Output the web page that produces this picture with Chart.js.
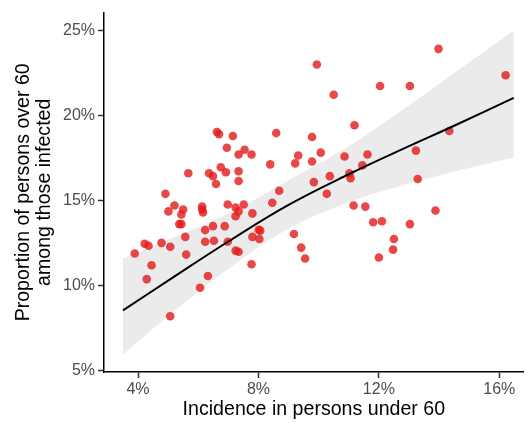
<!DOCTYPE html>
<html>
<head>
<meta charset="utf-8">
<script src="https://cdn.jsdelivr.net/npm/chart.js@4/dist/chart.umd.min.js"></script>
<style>
  body { margin: 0; background: #fff; }
</style>
</head>
<body>
<canvas id="chart" width="528" height="423"></canvas>
<script>
// incidence under 60 (%) and share over 60 (%), one entry per region
var incidence = [3.89, 4.22, 4.35, 4.29, 4.45, 4.78, 4.91, 5.07, 5.07, 5.21,
  5.01, 5.50, 5.44, 5.37, 5.44, 5.57, 5.60, 5.67, 6.06, 6.13,
  6.13, 6.16, 6.23, 6.23, 6.32, 6.36, 6.49, 6.49, 6.52, 6.59,
  6.62, 6.69, 6.75, 6.88, 6.92, 6.95, 6.98, 6.98, 7.15, 7.24,
  7.24, 7.24, 7.34, 7.34, 7.34, 7.34, 7.34, 7.51, 7.54, 7.77,
  7.77, 7.80, 7.80, 8.01, 8.06, 8.03, 8.39, 8.46, 8.59, 8.69,
  9.18, 9.22, 9.32, 9.42, 9.55, 9.78, 9.78, 9.84, 9.94, 10.07,
  10.27, 10.37, 10.50, 10.86, 11.02, 11.06, 11.16, 11.19, 11.45, 11.55,
  11.62, 11.81, 12.04, 12.10, 12.00, 12.47, 12.50, 13.03, 13.03, 13.23,
  13.29, 13.88, 13.98, 14.34, 16.21];
var over60 = [11.89, 12.47, 12.35, 10.39, 11.20, 12.52, 15.40, 12.29, 8.21, 14.71,
  14.37, 14.48, 14.19, 13.62, 13.62, 12.87, 11.83, 16.61, 9.88, 14.65,
  14.48, 14.31, 13.27, 12.58, 10.57, 16.61, 16.44, 13.50, 12.64, 15.98,
  19.03, 18.91, 16.96, 13.50, 16.67, 18.11, 14.77, 12.58, 18.80, 14.60,
  14.08, 12.06, 12.00, 17.71, 16.73, 16.15, 14.37, 14.77, 17.99, 17.71,
  11.26, 14.25, 12.87, 13.28, 13.24, 12.75, 17.13, 14.88, 18.97, 15.58,
  13.04, 17.19, 17.65, 12.24, 11.60, 18.74, 17.30, 16.09, 23.00, 17.82,
  15.40, 16.44, 21.22, 17.59, 16.61, 16.32, 14.71, 19.43, 17.07, 14.65,
  17.71, 13.73, 21.74, 13.79, 11.66, 12.12, 12.75, 21.74, 13.62, 17.94,
  16.27, 14.42, 23.92, 19.09, 22.37];

// smoothed fit and its confidence band
var fitX = [3.5, 5, 7, 9, 11, 13, 14.5, 16.48];
var fitY = [8.55, 10.3, 12.6, 14.75, 16.55, 18.2, 19.4, 21.04];
var bandLow = [5.96, 8.2, 11.0, 13.35, 14.9, 16.0, 16.7, 17.53];
var bandHigh = [11.6, 12.7, 14.25, 16.2, 18.2, 20.6, 22.5, 25.0];

var xTicks = [4, 8, 12, 16];
var yTicks = [5, 10, 15, 20, 25];

function pairs(xs, ys) {
  var out = [];
  for (var i = 0; i < xs.length; i++) out.push({x: xs[i], y: ys[i]});
  return out;
}

var font = "'Liberation Sans', Arial, sans-serif";

new Chart(document.getElementById('chart'), {
  type: 'scatter',
  data: {
    datasets: [{
      data: pairs(fitX, bandLow),
      showLine: true, borderWidth: 0, pointRadius: 0, tension: 0.4,
      order: 4
    }, {
      data: pairs(fitX, bandHigh),
      showLine: true, borderWidth: 0, pointRadius: 0, tension: 0.4,
      fill: '-1', backgroundColor: '#ebebeb',
      order: 3
    }, {
      data: pairs(incidence, over60),
      pointRadius: 4.3,
      pointBorderWidth: 0,
      pointBackgroundColor: 'rgba(228,26,28,0.8)',
      order: 2
    }, {
      data: pairs(fitX, fitY),
      showLine: true, borderColor: '#000', borderWidth: 2, pointRadius: 0,
      tension: 0.4,
      order: 1
    }]
  },
  options: {
    responsive: false,
    animation: false,
    layout: { padding: { top: 6, right: 0, left: 0, bottom: 0 } },
    plugins: { legend: { display: false }, tooltip: { enabled: false } },
    scales: {
      x: {
        type: 'linear',
        min: 2.87, max: 16.81,
        afterBuildTicks: function(s) { s.ticks = xTicks.map(function(v) { return {value: v}; }); },
        afterFit: function(s) { s.height = 51; },
        grid: { drawOnChartArea: false, tickLength: 6, tickColor: '#333', tickWidth: 1.5 },
        border: { color: '#000', width: 1.5 },
        ticks: { color: '#4d4d4d', padding: 2, font: { family: font, size: 16 },
          callback: function(v) { return v + '%'; } },
        title: { display: true, text: 'Incidence in persons under 60', color: '#000',
          font: { family: font, size: 19.6 }, padding: { top: 0, bottom: 2 } }
      },
      y: {
        type: 'linear',
        min: 4.93, max: 26.05,
        afterBuildTicks: function(s) { s.ticks = yTicks.map(function(v) { return {value: v}; }); },
        afterFit: function(s) { s.width = 104; },
        grid: { drawOnChartArea: false, tickLength: 6, tickColor: '#333', tickWidth: 1.5 },
        border: { color: '#000', width: 1.5 },
        ticks: { color: '#4d4d4d', padding: 3, font: { family: font, size: 16 },
          callback: function(v) { return v + '%'; } },
        title: { display: true, text: ['Proportion of persons over 60', 'among those infected'],
          color: '#000', font: { family: font, size: 19.6, lineHeight: 1.08 },
          padding: { top: 13, bottom: 0 } }
      }
    }
  }
});
</script>
</body>
</html>
